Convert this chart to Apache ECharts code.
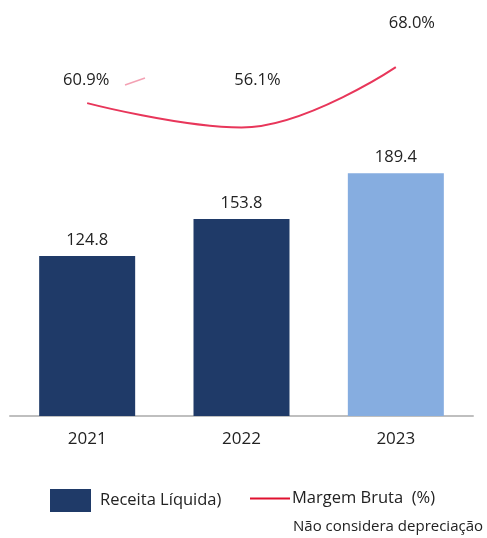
<!DOCTYPE html>
<html>
<head>
  <meta charset="utf-8">
  <script src="https://cdn.jsdelivr.net/npm/echarts@6/dist/echarts.min.js"></script>
  <title>Receita e Margem</title>
  <style>
    html, body { margin: 0; padding: 0; background: #fff; }
    #chart { width: 487px; height: 538px; }
  </style>
</head>
<body>
  <div id="chart"></div>
  <script>
    const years = ["2021", "2022", "2023"];
    const receita = [124.8, 153.8, 189.4];
    const margem = [60.9, 56.1, 68.0];

    const font = "'Open Sans', 'Noto Sans', sans-serif";
    const barColors = ["#1f3a68", "#1f3a68", "#86ade0"];

    const chart = echarts.init(document.getElementById("chart"));

    // label placement for the margin points, tuned by eye
    const marginLabelOffsets = [[-1, -23], [16, -47], [16, -44]];

    chart.setOption({
      animation: false,
      textStyle: { fontFamily: font },
      grid: { left: 10, right: 14, top: 20, bottom: 122 },
      legend: [
        {
          data: ["Receita Líquida)"],
          left: 50, top: 489, padding: 0,
          icon: "rect", itemWidth: 41, itemHeight: 23,
          itemStyle: { color: "#1f3a68" },
          textStyle: { fontSize: 16.5, color: "#222", padding: [0, 0, 0, 4] },
          selectedMode: false,
        },
        {
          data: ["Margem Bruta  (%)"],
          left: 250, top: 490, padding: 0,
          icon: "rect", itemWidth: 40, itemHeight: 2,
          itemStyle: { color: "#e0102f", opacity: 1 },
          textStyle: { fontSize: 16.5, color: "#222", padding: [0, 0, 0, -3] },
          selectedMode: false,
        },
      ],
      xAxis: {
        type: "category",
        data: years,
        axisLine: { lineStyle: { color: "#bfbfbf", width: 2 } },
        axisTick: { show: false },
        axisLabel: { fontSize: 17, color: "#222", margin: 15 },
      },
      yAxis: [
        { type: "value", min: 0, max: 309, show: false },
        { type: "value", min: -0.8, max: 77.3, show: false },
      ],
      series: [
        {
          name: "Receita Líquida)",
          type: "bar",
          barWidth: 96,
          data: receita.map((v, i) => ({ value: v, itemStyle: { color: barColors[i] } })),
          label: {
            show: true,
            position: "top",
            distance: 7,
            fontSize: 16.5,
            color: "#222",
            formatter: (p) => p.value.toFixed(1),
          },
        },
        {
          name: "Margem Bruta  (%)",
          type: "line",
          yAxisIndex: 1,
          smooth: 0.4,
          symbol: "circle",
          symbolSize: 1,
          lineStyle: { color: "#e8365a", width: 2 },
          itemStyle: { color: "rgba(0,0,0,0)" },
          data: margem.map((v, i) => ({
            value: v,
            label: { offset: marginLabelOffsets[i] },
          })),
          label: {
            show: true,
            position: "inside",
            fontSize: 16.5,
            color: "#222",
            formatter: (p) => p.value.toFixed(1) + "%",
          },
        },
      ],
      graphic: [
        {
          type: "line",
          shape: { x1: 125, y1: 85, x2: 145, y2: 78 },
          style: { stroke: "#f08aa0", lineWidth: 1.5, opacity: 0.8 },
        },
        {
          type: "text",
          left: 293, top: 519,
          style: { text: "Não considera depreciação", fontSize: 15, fill: "#222", fontFamily: font },
        },
      ],
    });
  </script>
</body>
</html>
